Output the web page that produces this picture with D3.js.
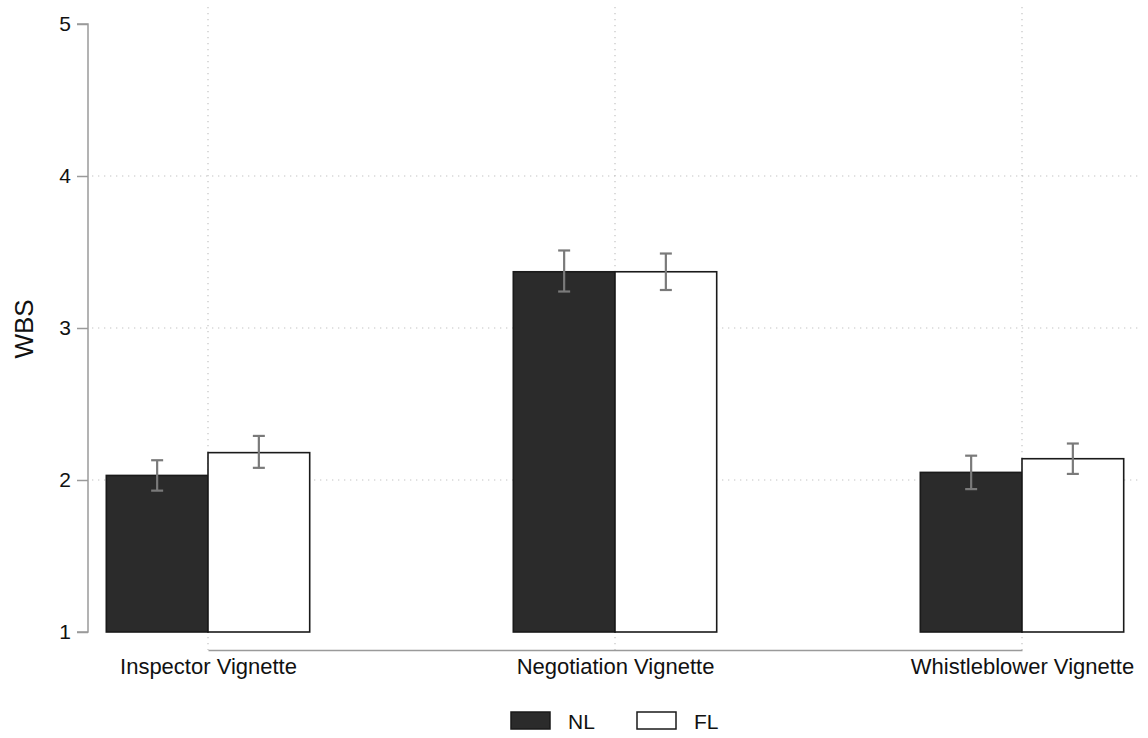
<!DOCTYPE html>
<html><head><meta charset="utf-8">
<script src="https://cdn.jsdelivr.net/npm/d3@7"></script>
<style>body{margin:0;background:#fff}svg{display:block;font-family:"Liberation Sans",Arial,Helvetica,sans-serif}</style>
</head><body><svg id="c" width="1148" height="738"></svg>
<script>
const categories = ["Inspector Vignette","Negotiation Vignette","Whistleblower Vignette"];
const seriesNames = ["NL","FL"];
const nlMean = [2.03, 3.37, 2.05];
const nlLow  = [1.93, 3.24, 1.94];
const nlHigh = [2.13, 3.51, 2.16];
const flMean = [2.18, 3.37, 2.14];
const flLow  = [2.08, 3.25, 2.04];
const flHigh = [2.29, 3.49, 2.24];
const yTicks = [1,2,3,4,5];
const gridTicks = [2,3,4];

const svg = d3.select("#c");
const y = d3.scaleLinear().domain([1,5]).range([632,24]);
const xg = d3.scalePoint().domain(categories).range([208,1022]);
const xs = d3.scaleBand().domain(seriesNames).range([-101.7,101.7]).padding(0);

const rows = [];
categories.forEach((c,i)=>{
  rows.push({cat:c, s:"NL", v:nlMean[i], lo:nlLow[i], hi:nlHigh[i]});
  rows.push({cat:c, s:"FL", v:flMean[i], lo:flLow[i], hi:flHigh[i]});
});
const fill = {NL:"#2b2b2b", FL:"#ffffff"};

// gridlines
svg.append("g").selectAll("line").data(gridTicks).join("line")
  .attr("x1",92).attr("x2",1142).attr("y1",d=>y(d)).attr("y2",d=>y(d))
  .attr("stroke","#c4c4c4").attr("stroke-width",1.2).attr("stroke-dasharray","1.3,4.7");
svg.append("g").selectAll("line").data(categories).join("line")
  .attr("x1",d=>xg(d)).attr("x2",d=>xg(d)).attr("y1",7).attr("y2",650)
  .attr("stroke","#c4c4c4").attr("stroke-width",1.2).attr("stroke-dasharray","1.3,4.7");

// bars
svg.append("g").selectAll("rect").data(rows).join("rect")
  .attr("x",d=>xg(d.cat)+xs(d.s)).attr("width",xs.bandwidth())
  .attr("y",d=>y(d.v)).attr("height",d=>y(1)-y(d.v))
  .attr("fill",d=>fill[d.s]).attr("stroke","#1a1a1a").attr("stroke-width",1.6);

// error bars
const eb = svg.append("g").attr("stroke","#7a7a7a").attr("stroke-width",2.2).attr("fill","none");
rows.forEach(d=>{
  const cx = xg(d.cat)+xs(d.s)+xs.bandwidth()/2;
  eb.append("line").attr("x1",cx).attr("x2",cx).attr("y1",y(d.hi)).attr("y2",y(d.lo));
  eb.append("line").attr("x1",cx-6).attr("x2",cx+6).attr("y1",y(d.hi)).attr("y2",y(d.hi));
  eb.append("line").attr("x1",cx-6).attr("x2",cx+6).attr("y1",y(d.lo)).attr("y2",y(d.lo));
});

// y axis
const ya = svg.append("g").attr("transform","translate(88,0)")
  .call(d3.axisLeft(y).tickValues(yTicks).tickFormat(d3.format("d")).tickSize(11).tickPadding(6));
ya.attr("font-size",21).attr("font-family","Liberation Sans, Arial, sans-serif");
ya.select(".domain").attr("stroke","#9a9a9a").attr("stroke-width",1.5).attr("d","M-11,24H0V632H-11");
ya.selectAll(".tick line").attr("stroke","#9a9a9a").attr("stroke-width",1.5);
ya.selectAll(".tick text").attr("fill","#111");

// x axis
const xa = svg.append("g").attr("transform","translate(0,650)")
  .call(d3.axisBottom(xg).tickSize(0).tickPadding(8));
xa.attr("font-size",22).attr("font-family","Liberation Sans, Arial, sans-serif");
xa.select(".domain").attr("stroke","#9a9a9a").attr("stroke-width",1.5);
xa.selectAll(".tick text").attr("fill","#111");

// y title
svg.append("text").attr("transform","translate(33,329) rotate(-90)")
  .attr("text-anchor","middle").attr("font-size",26).attr("fill","#111").text("WBS");

// legend
const legX = [511,637];
const lg = svg.append("g");
seriesNames.forEach((s,i)=>{
  lg.append("rect").attr("x",legX[i]).attr("y",712).attr("width",39).attr("height",17)
    .attr("fill",fill[s]).attr("stroke","#1a1a1a").attr("stroke-width",1.5);
  lg.append("text").attr("x",legX[i]+57).attr("y",729).attr("font-size",21).attr("fill","#111").text(s);
});
</script></body></html>
